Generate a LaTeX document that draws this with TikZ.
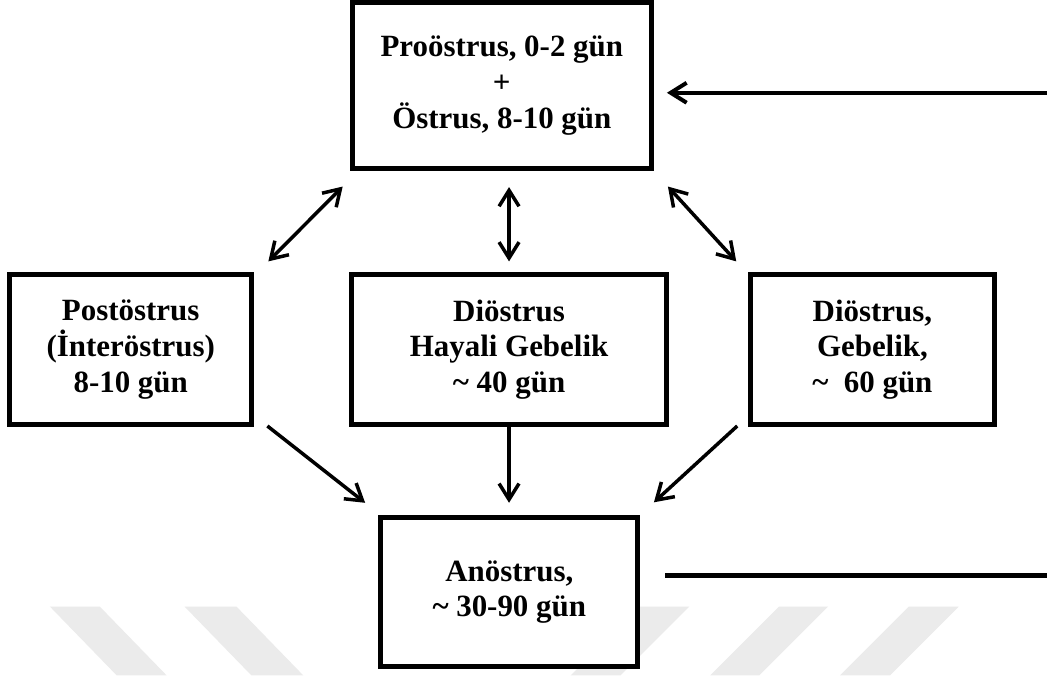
\documentclass[tikz,border=0pt]{standalone}
\usepackage{fontspec}
\setmainfont{Liberation Serif}
\usetikzlibrary{arrows.meta,calc}
\begin{document}
\begin{tikzpicture}[x=1pt,y=-1pt,
  box/.style={draw, line width=5pt, fill=white, align=center, inner sep=0pt,
    font=\fontsize{31}{36}\selectfont\bfseries,
    execute at begin node={\rule{0pt}{29pt}}},
  tip/.tip={Straight Barb[length=16pt,width=20pt]},
  arr/.style={line width=3.5pt, -tip},
  dbl/.style={line width=3.5pt, tip-tip},
  wm/.style={fill=black!8}]
\fill[white] (0,0) rectangle (1049,677);
% faint watermark stripes
\fill[wm] (50,608) -- (100,608) -- (167,677) -- (117,677) -- cycle;
\fill[wm] (185,608) -- (237,608) -- (304,677) -- (252,677) -- cycle;
\fill[wm] (641,608) -- (691,608) -- (622,677) -- (572,677) -- cycle;
\fill[wm] (781,608) -- (830,608) -- (761,677) -- (712,677) -- cycle;
\fill[wm] (911,608) -- (961,608) -- (892,677) -- (842,677) -- cycle;
% boxes
\node[box, minimum width=300pt, minimum height=166pt] (A) at (503,86)
  {Proöstrus, 0-2 gün\\+\\Östrus, 8-10 gün};
\node[box, minimum width=243pt, minimum height=150pt] (B) at (131,350.5)
  {Postöstrus\\(İnteröstrus)\\8-10 gün};
\node[box, minimum width=315.5pt, minimum height=150pt] (C) at (510.25,350.5)
  {Diöstrus\\Hayali Gebelik\\\textasciitilde\ 40 gün};
\node[box, minimum width=244pt, minimum height=150pt] (D) at (874.5,350.5)
  {Diöstrus,\\Gebelik,\\\textasciitilde\ \ 60 gün};
\node[box, minimum width=258pt, minimum height=150pt] (E) at (510.5,593.5)
  {Anöstrus,\\\textasciitilde\ 30-90 gün};
% free ends at the right margin
\coordinate (r1) at (1049,93);
\coordinate (r2) at (1049,577);
% connectors
\draw[arr, line width=4pt] (r1) -- ($(r1 -| A.east)+(13,0)$);
\draw[line width=5pt] ($(r2 -| E.east)+(25,0)$) -- (r2);
\draw[dbl] ($(B.north east)+(14,-11)$) -- ($(A.south west)+(-7,15.5)$);
\draw[dbl] ($(C.north)+(0,-11)$) -- ($(A.south -| C.north)+(0,16)$);
\draw[dbl] ($(A.south east)+(14,15.5)$) -- ($(D.north west)+(-12,-11)$);
\draw[arr] ($(B.south east)+(13,-1)$) -- ($(E.north west)+(-13,-12)$);
\draw[arr] (C.south) -- ($(E.north -| C.south)+(0,-12)$);
\draw[arr] ($(D.south west)+(-11,-1)$) -- ($(E.north east)+(13.5,-12.5)$);
\end{tikzpicture}
\end{document}
